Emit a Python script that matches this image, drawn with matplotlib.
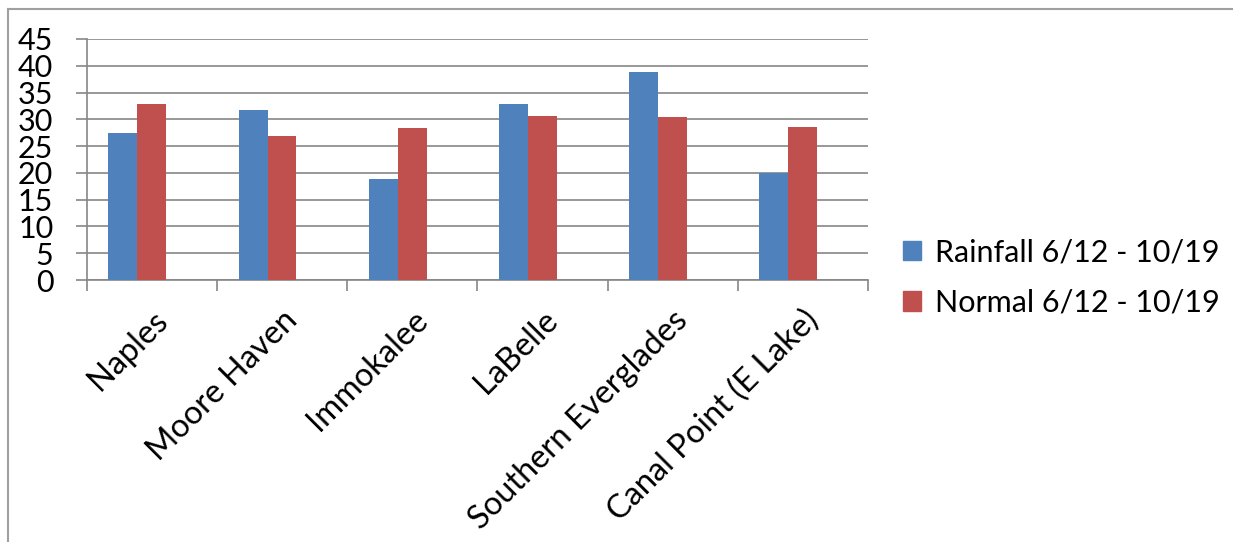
import numpy as np
import matplotlib
matplotlib.use("Agg")
import matplotlib.pyplot as plt
import matplotlib.patches as mpatches
from matplotlib.lines import Line2D

# station names and rainfall totals (inches)
stations = ["Naples", "Moore Haven", "Immokalee", "LaBelle",
            "Southern Everglades", "Canal Point (E Lake)"]
rainfall = [27.5, 31.8, 18.8, 32.9, 38.8, 20.0]
normal = [32.9, 26.8, 28.3, 30.7, 30.4, 28.6]
series_names = ["Rainfall 6/12 - 10/19", "Normal 6/12 - 10/19"]
yticks = [0, 5, 10, 15, 20, 25, 30, 35, 40, 45]

BLUE = "#4F81BD"
RED = "#C0504D"
GRID = "#868686"

plt.rcParams['font.family'] = ['Lato', 'DejaVu Sans']
FS = 22

W, H = 1233, 542
fig = plt.figure(figsize=(W / 100, H / 100), dpi=100)
fig.patch.set_facecolor("white")

ax = fig.add_axes([86.7 / W, 1 - 280 / H, (868 - 86.7) / W, (280 - 39) / H])

# excel-style clustered bars: 3 slots (third one empty), gap width 150%
bw = 1 / 4.5
x = np.arange(len(stations))
ax.bar(x - bw, rainfall, width=bw, color=BLUE, linewidth=0, label=series_names[0], zorder=3)
ax.bar(x, normal, width=bw, color=RED, linewidth=0, label=series_names[1], zorder=3)

ax.set_xlim(-0.5, len(stations) - 0.5)
ax.set_ylim(0, 45)
ax.set_yticks(yticks)
ax.set_yticklabels([str(v) for v in yticks], fontsize=FS)
ax.yaxis.grid(True, color=GRID, linewidth=1.2, zorder=0)

# category ticks sit between the groups, labels at the centres
ax.set_xticks(np.arange(-0.5, len(stations), 1.0))
ax.set_xticklabels([])
ax.set_xticks(x, minor=True)
ax.set_xticklabels(stations, minor=True, fontsize=23.5, rotation=45,
                   ha='right', va='top', rotation_mode='anchor')
ax.tick_params(axis='x', which='minor', length=0, pad=18)
ax.tick_params(axis='x', which='major', length=8, width=1.2, color=GRID)
ax.tick_params(axis='y', length=8, width=1.2, color=GRID, pad=16)

for side in ['top', 'right']:
    ax.spines[side].set_visible(False)
for side in ['left', 'bottom']:
    ax.spines[side].set_color(GRID)
    ax.spines[side].set_linewidth(1.2)

handles = [mpatches.Patch(color=BLUE), mpatches.Patch(color=RED)]
fig.legend(handles, series_names, loc='center left',
           bbox_to_anchor=(903 / W, 1 - 277.5 / H), frameon=False,
           fontsize=FS, handlelength=0.6, handleheight=0.6,
           handletextpad=0.45, borderpad=0, borderaxespad=0, labelspacing=0.75)

# outer chart border (only top and left visible in the crop)
fig.add_artist(Line2D([8 / W, 1], [1 - 9 / H, 1 - 9 / H], color="#a0a0a0", lw=1.5,
                      transform=fig.transFigure))
fig.add_artist(Line2D([8 / W, 8 / W], [0, 1 - 9 / H], color="#a0a0a0", lw=1.5,
                      transform=fig.transFigure))

fig.savefig("out.png", dpi=100, facecolor="white")
plt.close(fig)
